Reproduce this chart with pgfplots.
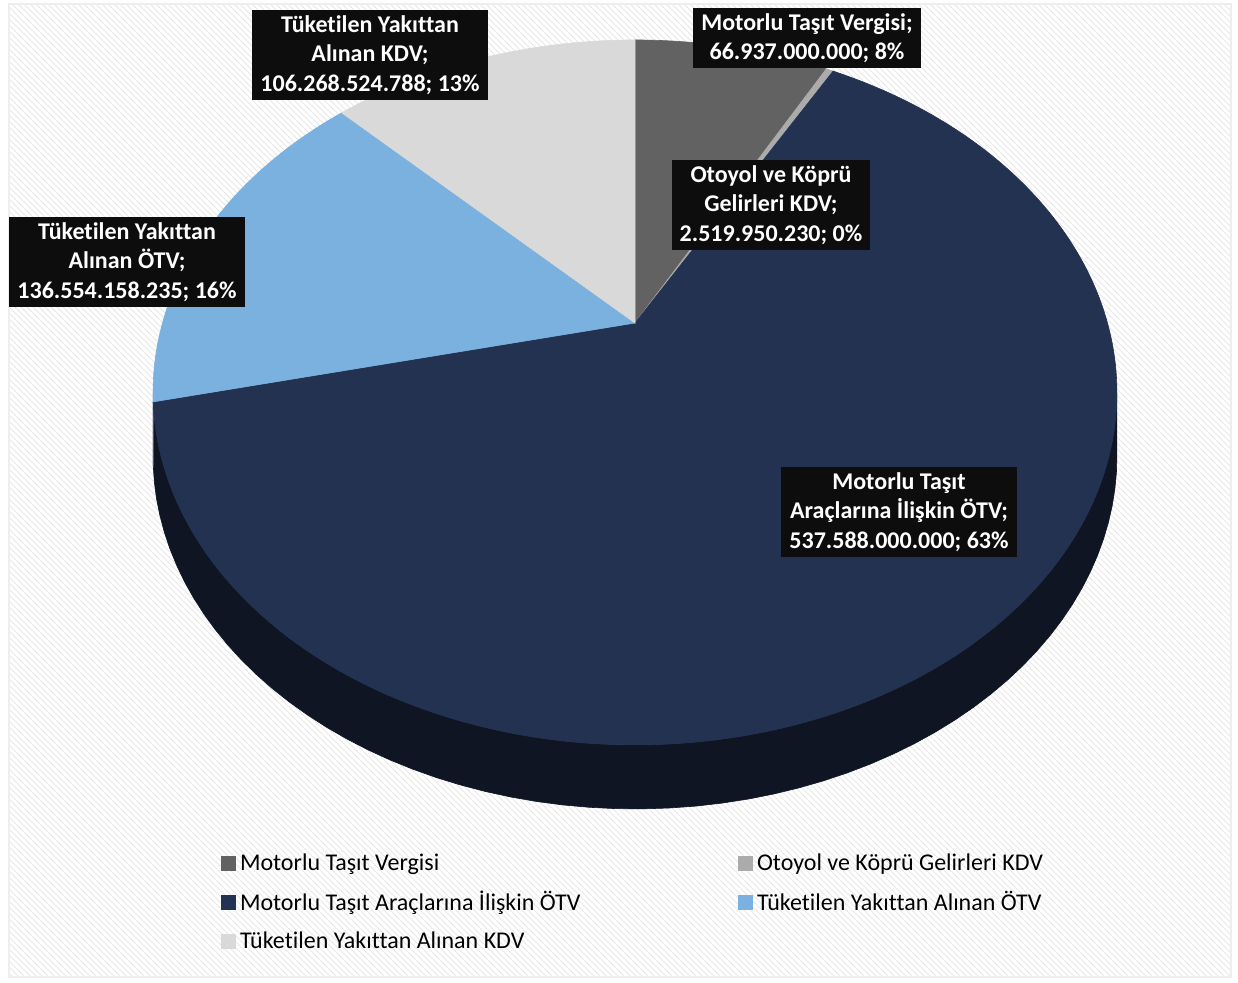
\documentclass[border=0pt]{standalone}
\usepackage{fontspec}
\setmainfont{Carlito}[Ligatures=NoCommon]
\usepackage{pgfplots}
\pgfplotsset{compat=1.18}
\usetikzlibrary{patterns}
\definecolor{cA}{HTML}{626262}
\definecolor{cB}{HTML}{ABABAB}
\definecolor{cC}{HTML}{243252}
\definecolor{cD}{HTML}{7AB1DF}
\definecolor{cE}{HTML}{D9D9D9}
\definecolor{sC}{HTML}{0F1522}
\definecolor{sD}{HTML}{3D6B94}
\definecolor{lab}{HTML}{0D0D0D}
\definecolor{frame}{HTML}{EEEEEE}
% values in billions TL
\def\vA{66.937}      % Motorlu Tasit Vergisi
\def\vB{2.51995023}  % Otoyol ve Kopru Gelirleri KDV
\def\vC{537.588}     % Motorlu Tasit Araclarina Iliskin OTV
\def\vD{136.554158}  % Tuketilen Yakittan Alinan OTV
\def\vE{106.268525}  % Tuketilen Yakittan Alinan KDV
\pgfmathsetmacro{\tot}{\vA+\vB+\vC+\vD+\vE}
\pgfmathsetmacro{\aA}{360*(\vA/\tot)}
\pgfmathsetmacro{\aB}{360*((\vA+\vB)/\tot)}
\pgfmathsetmacro{\aC}{360*((\vA+\vB+\vC)/\tot)}
\pgfmathsetmacro{\aD}{360*((\vA+\vB+\vC+\vD)/\tot)}
\def\sR{101.36}
\def\sL{258.64}
\begin{document}
\begin{tikzpicture}
\begin{axis}[
  width=619pt, height=491pt, scale only axis,
  xmin=0, xmax=1238, ymin=0, ymax=982, y dir=reverse,
  hide axis, clip=false,
  declare function={
    px(\q)=635+472.5*sin(\q)/(1+0.197*cos(\q));
    py(\q)=323-338.8*cos(\q)/(1+0.197*cos(\q));
  },
  legend columns=2,
  legend cell align=left,
  legend image code/.code={\fill[#1] (0pt,-3.5pt) rectangle (7pt,3.5pt);},
  legend style={at={(axis cs:215,845)}, anchor=north west, draw=none, fill=none,
    font=\fontsize{12}{14}\selectfont, row sep=5pt,
    nodes={inner xsep=2pt, inner ysep=2pt},
    /tikz/every even column/.append style={column sep=77pt}},
]
% background
\fill[white] (axis cs:0,0) rectangle (axis cs:1238,982);
\fill[pattern=north west lines, pattern color=black!9] (axis cs:9,4) rectangle (axis cs:1231,977);
\draw[frame, line width=1pt] (axis cs:9,4) rectangle (axis cs:1231,977);
% side walls
\addplot[fill=sC, draw=sC, line width=0.3pt, forget plot, variable=\t, domain=0:3, samples=181]
  ({px(\sR+(\aC-\sR)*min(\t,1)-(\aC-\sR)*max(\t-2,0))},
   {py(\sR+(\aC-\sR)*min(\t,1)-(\aC-\sR)*max(\t-2,0))+64*min(max(\t-1,0),1)}) -- cycle;
\addplot[fill=sD, draw=sD, line width=0.3pt, forget plot, variable=\t, domain=0:3, samples=31]
  ({px(\aC+(\sL-\aC)*min(\t,1)-(\sL-\aC)*max(\t-2,0))},
   {py(\aC+(\sL-\aC)*min(\t,1)-(\sL-\aC)*max(\t-2,0))+64*min(max(\t-1,0),1)}) -- cycle;
% top faces
\addplot[fill=cA, draw=cA, line width=0.3pt, variable=\t, domain=0:\aA, samples=40]
  ({px(\t)},{py(\t)}) -- (axis cs:635,323) -- cycle;
\addlegendentry{Motorlu Taşıt Vergisi}
\addplot[fill=cB, draw=cB, line width=0.3pt, variable=\t, domain=\aA:\aB, samples=5]
  ({px(\t)},{py(\t)}) -- (axis cs:635,323) -- cycle;
\addlegendentry{Otoyol ve Köprü Gelirleri KDV}
\addplot[fill=cC, draw=cC, line width=0.3pt, variable=\t, domain=\aB:\aC, samples=200]
  ({px(\t)},{py(\t)}) -- (axis cs:635,323) -- cycle;
\addlegendentry{Motorlu Taşıt Araçlarına İlişkin ÖTV}
\addplot[fill=cD, draw=cD, line width=0.3pt, variable=\t, domain=\aC:\aD, samples=60]
  ({px(\t)},{py(\t)}) -- (axis cs:635,323) -- cycle;
\addlegendentry{Tüketilen Yakıttan Alınan ÖTV}
\addplot[fill=cE, draw=cE, line width=0.3pt, variable=\t, domain=\aD:360, samples=50]
  ({px(\t)},{py(\t)}) -- (axis cs:635,323) -- cycle;
\addlegendentry{Tüketilen Yakıttan Alınan KDV}
% data labels
\tikzset{lbl/.style={fill=lab, text=white, align=center, inner xsep=4pt, inner ysep=2.5pt,
  font=\bfseries\fontsize{12}{14.75}\selectfont}}
\node[lbl] at (axis cs:807,38) {Motorlu Taşıt Vergisi;\\66.937.000.000; 8\%};
\node[lbl] at (axis cs:771,205) {Otoyol ve Köprü\\Gelirleri KDV;\\2.519.950.230; 0\%};
\node[lbl] at (axis cs:899,512) {Motorlu Taşıt\\Araçlarına İlişkin ÖTV;\\537.588.000.000; 63\%};
\node[lbl] at (axis cs:127,262) {Tüketilen Yakıttan\\Alınan ÖTV;\\136.554.158.235; 16\%};
\node[lbl] at (axis cs:370,55) {Tüketilen Yakıttan\\Alınan KDV;\\106.268.524.788; 13\%};
\end{axis}
\end{tikzpicture}
\end{document}
